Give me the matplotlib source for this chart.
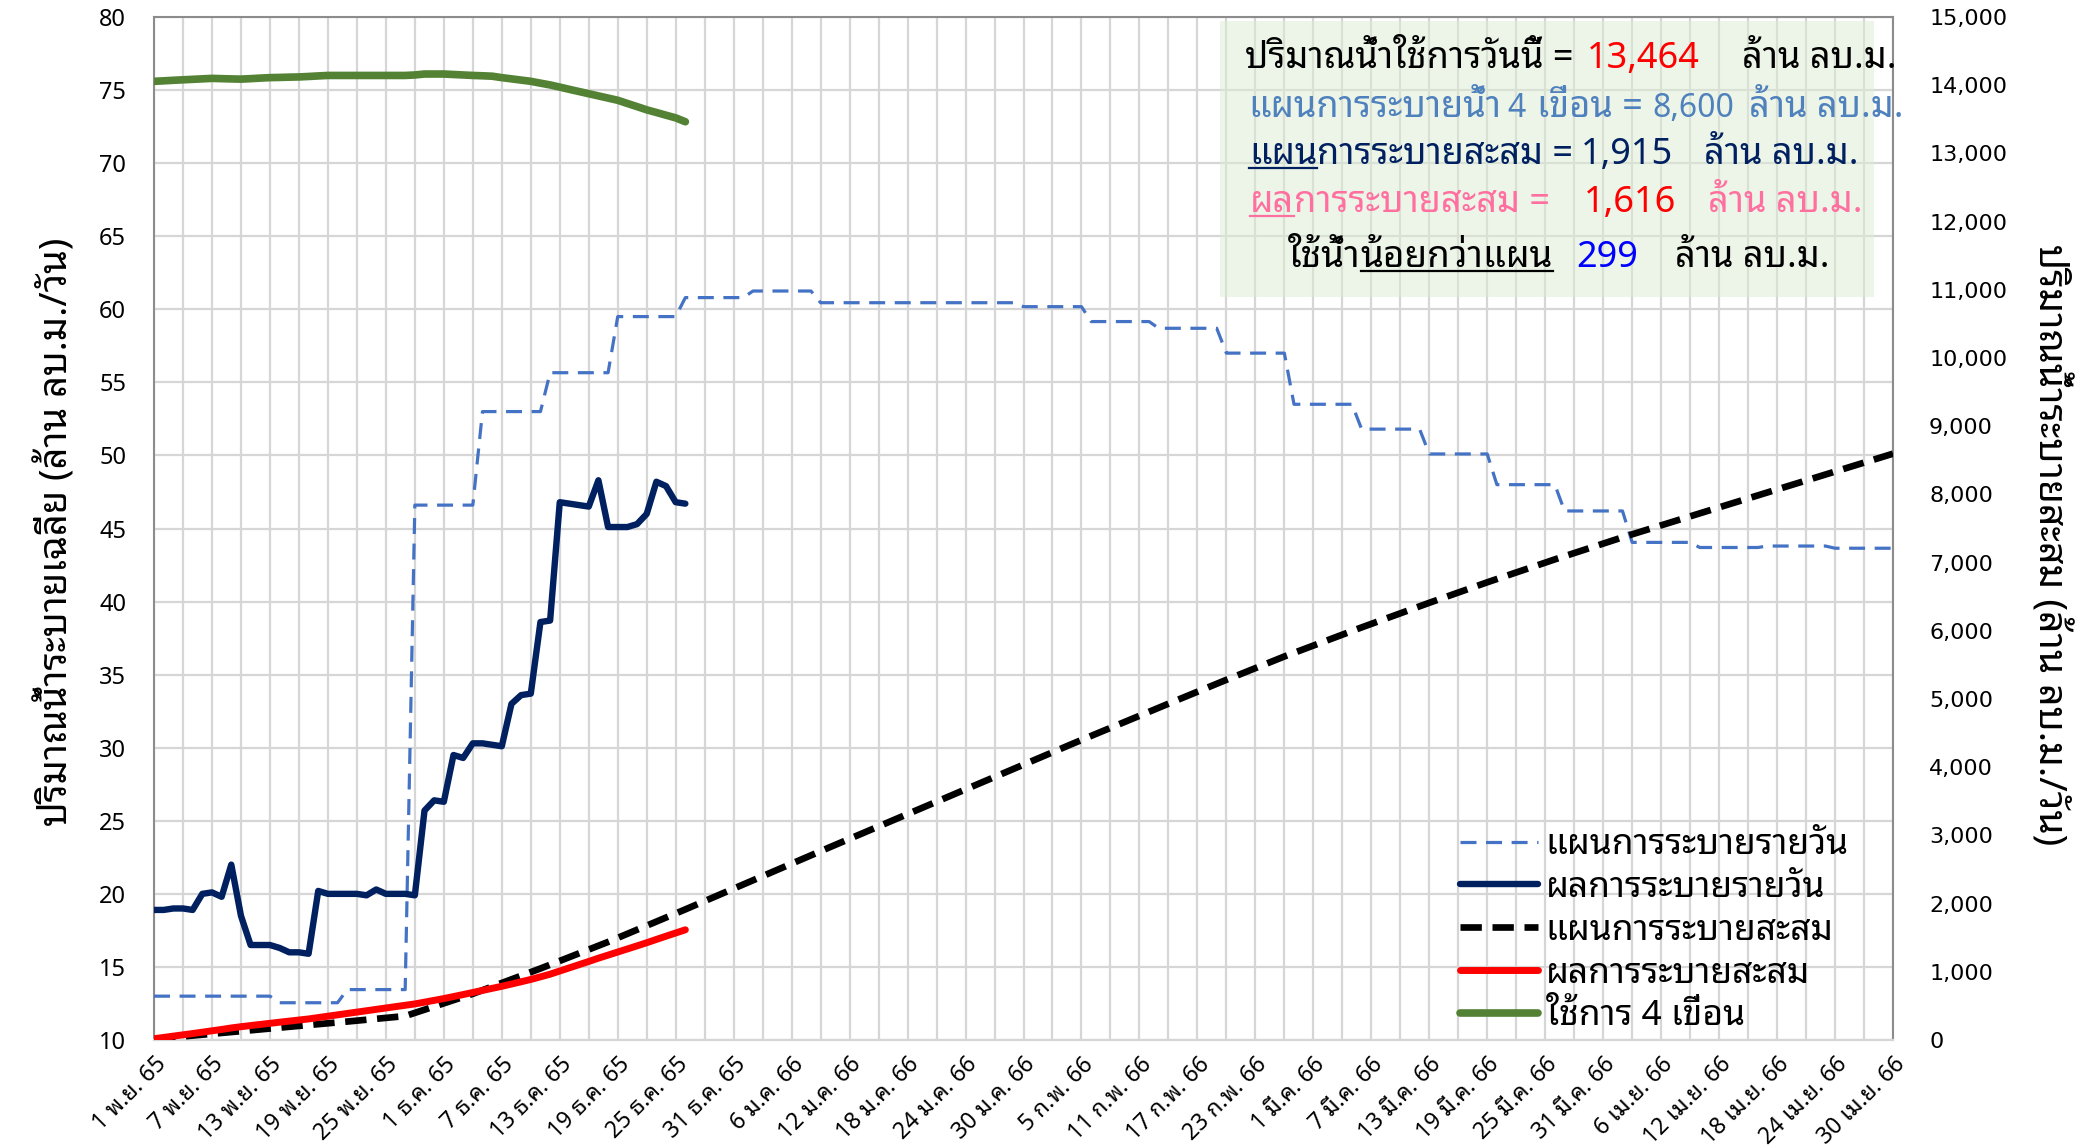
import numpy as np
import pandas as pd
import matplotlib
matplotlib.use("Agg")
import matplotlib.pyplot as plt
from matplotlib import font_manager
from matplotlib.lines import Line2D
from matplotlib.patches import Rectangle

# ฟอนต์ไทย (เลือกตัวแรกที่มีในเครื่อง)
installed = {f.name for f in font_manager.fontManager.ttflist}
thai_font = next(
    (n for n in ["Noto Sans Thai Looped", "Sarabun", "Niramit", "K2D", "Bai Jamjuree"] if n in installed),
    "DejaVu Sans",
)
plt.rcParams["font.family"] = [thai_font, "DejaVu Sans"]
plt.rcParams["axes.unicode_minus"] = False


# ============================
# ข้อมูล
# ============================

dates = pd.date_range("2022-11-01", "2023-04-30", freq="D")

# แผนการระบายรายวัน (ล้าน ลบ.ม./วัน) ปรับค่าเป็นช่วง ๆ
plan_level = [13.0, 12.55, 13.45, 46.6, 53.0, 55.66, 59.5, 60.8, 61.25, 60.45,
              60.18, 59.16, 58.7, 57.0, 53.5, 51.8, 50.1, 48.0, 46.2, 44.05,
              43.7, 43.8, 43.65]
plan_days = [13, 7, 7, 7, 7, 7, 7, 7, 7, 21,
             7, 7, 7, 7, 7, 7, 7, 7, 7, 7,
             7, 7, 7]

# ผลการระบายรายวัน 1 พ.ย. - 26 ธ.ค. 65
actual_daily = [18.9, 18.9, 19.0, 19.0, 18.9, 20.0, 20.1, 19.8, 22.0, 18.5,
                16.5, 16.5, 16.5, 16.3, 16.0, 16.0, 15.9, 20.2, 20.0, 20.0,
                20.0, 20.0, 19.9, 20.3, 20.0, 20.0, 20.0, 19.9, 25.7, 26.4,
                26.3, 29.5, 29.3, 30.3, 30.3, 30.2, 30.1, 33.0, 33.6, 33.7,
                38.6, 38.7, 46.8, 46.7, 46.6, 46.5, 48.3, 45.1, 45.1, 45.1,
                45.3, 46.0, 48.2, 47.9, 46.8, 46.7]

# ปริมาณน้ำใช้การ 4 เขื่อน (ล้าน ลบ.ม.)
usable_4dams = [14057, 14064, 14072, 14079, 14086, 14093, 14100, 14096, 14092, 14089,
                14096, 14104, 14111, 14114, 14118, 14121, 14128, 14136, 14143, 14143,
                14143, 14143, 14143, 14143, 14143, 14143, 14143, 14150, 14164, 14164,
                14164, 14157, 14150, 14143, 14138, 14132, 14111, 14093, 14075, 14057,
                14030, 14004, 13972, 13939, 13907, 13875, 13843, 13811, 13779, 13732,
                13686, 13639, 13600, 13560, 13521, 13464]

plan_daily = np.repeat(plan_level, plan_days)
plan_cum = np.cumsum(plan_daily)
actual_cum = np.cumsum(actual_daily)
n_act = len(actual_daily)

thai_month = {11: "พ.ย.", 12: "ธ.ค.", 1: "ม.ค.", 2: "ก.พ.", 3: "มี.ค.", 4: "เม.ย."}


# ============================
# กราฟ
# ============================

W, H = 2087, 1147
fig = plt.figure(figsize=(W / 100, H / 100), dpi=100)
ax = fig.add_axes([154 / W, 1 - 1040 / H, (1893 - 154) / W, (1040 - 17) / H])
ax2 = ax.twinx()

c_plan = "#4472C4"
c_act = "#002060"
c_green = "#548235"

l1, = ax.plot(dates, plan_daily, color=c_plan, lw=2.3, dashes=(5.0, 3.0), zorder=3)
l2, = ax.plot(dates[:n_act], actual_daily, color=c_act, lw=4.6, zorder=4,
              solid_joinstyle="round", solid_capstyle="round")
l3, = ax2.plot(dates, plan_cum, color="black", lw=4.8, dashes=(3.2, 1.6), zorder=3)
l4, = ax2.plot(dates[:n_act], actual_cum, color="#FF0000", lw=5.0, zorder=4,
               solid_capstyle="round")
l5, = ax2.plot(dates[:n_act], usable_4dams, color=c_green, lw=5.5, zorder=4,
               solid_capstyle="round")

# แกน
ax.set_xlim(dates[0], dates[-1])
ax.set_ylim(10, 80)
ax.set_yticks(np.arange(10, 81, 5))
ax2.set_ylim(0, 15000)
ax2.set_yticks(np.arange(0, 15001, 1000))
ax2.set_yticklabels([f"{v:,}" for v in range(0, 15001, 1000)], family="DejaVu Sans", fontsize=16)

ax.set_xticks(dates[::6])
ax.set_xticks(dates[::3], minor=True)
ax.set_xticklabels([f"{d.day} {thai_month[d.month]} {(d.year + 543) % 100}" for d in dates[::6]],
                   fontsize=16.5, rotation=45, ha="right", va="top", rotation_mode="anchor")
ax.tick_params(axis="x", which="both", length=0, pad=9)
ax.tick_params(axis="y", length=0, pad=20, labelsize=17)
ax2.tick_params(axis="y", length=0, pad=26)

ax.grid(True, which="both", axis="x", color="#d6d6d6", lw=1.6)
ax.grid(True, which="major", axis="y", color="#d6d6d6", lw=1.6)
ax.set_axisbelow(True)

for s in ["left", "right", "top"]:
    ax.spines[s].set_color("#8c8c8c")
    ax.spines[s].set_linewidth(1.5)
ax.spines["bottom"].set_color("#d6d6d6")
ax.spines["bottom"].set_linewidth(1.6)
for s in ax2.spines.values():
    s.set_visible(False)

fig.text(56 / W, 1 - 532 / H, "ปริมาณน้ำระบายเฉลี่ย (ล้าน ลบ.ม./วัน)", rotation=90,
         ha="center", va="center", fontsize=27.5)
fig.text(2050 / W, 1 - 545 / H, "ปริมาณน้ำระบายสะสม (ล้าน ลบ.ม./วัน)", rotation=270,
         ha="center", va="center", fontsize=28)

# คำอธิบายเส้น
fig.legend([l1, l2, l3, l4, l5],
           ["แผนการระบายรายวัน", "ผลการระบายรายวัน", "แผนการระบายสะสม", "ผลการระบายสะสม", "ใช้การ 4 เขื่อน"],
           loc="upper left", bbox_to_anchor=(1460 / W, 1 - 828 / H), frameon=False,
           fontsize=25.5, handlelength=2.2, handletextpad=0.22, labelspacing=0.25,
           borderpad=0, borderaxespad=0)


# ============================
# กล่องสรุป
# ============================

fig.add_artist(Rectangle((1220 / W, 1 - 297 / H), 654 / W, 276 / H, transform=fig.transFigure,
                         facecolor="#DDEDD5", edgecolor="none", alpha=0.5, zorder=5))

renderer = fig.canvas.get_renderer()
cursor = [0]


def put(x, y, s, color, size, underline=False):
    # x=None ต่อท้ายข้อความก่อนหน้า
    if x is None:
        x = cursor[0]
    t = fig.text(x / W, 1 - y / H, s, color=color, fontsize=size, ha="left", va="baseline", zorder=6)
    bb = t.get_window_extent(renderer)
    if underline:
        yy = 1 - (y + 4) / H
        fig.add_artist(Line2D([bb.x0 / W, bb.x1 / W], [yy, yy], transform=fig.transFigure,
                              color=color, lw=1.6, zorder=6))
    cursor[0] = bb.x1
    return t


fs_txt, fs_num = 26, 26
put(1245, 68, "ปริมาณน้ำใช้การวันนี้ =", "black", fs_txt)
put(1587, 68, "13,464", "#FF0000", fs_num)
put(1742, 68, "ล้าน ลบ.ม.", "black", fs_txt)

c2 = "#4F81BD"
put(1248, 117, "แผนการระบายน้ำ", c2, fs_txt)
put(1507, 117, "4", c2, 23)
put(1537, 117, "เขื่อน =", c2, fs_txt)
put(1652, 117, "8,600", c2, 23)
put(1749, 117, "ล้าน ลบ.ม.", c2, fs_txt)

put(1249, 164, "แผน", "#002060", fs_txt, underline=True)
put(None, 164, "การระบายสะสม =", "#002060", fs_txt)
put(1581, 164, "1,915", "#002060", fs_num)
put(1704, 164, "ล้าน ลบ.ม.", "#002060", fs_txt)

put(1250, 212, "ผล", "#FF6F9F", fs_txt, underline=True)
put(None, 212, "การระบายสะสม =", "#FF6F9F", fs_txt)
put(1584, 212, "1,616", "#FF0000", fs_num)
put(1708, 212, "ล้าน ลบ.ม.", "#FF6F9F", fs_txt)

put(1288, 267, "ใช้น้ำ", "black", 26.5)
put(None, 267, "น้อยกว่าแผน", "black", 26.5, underline=True)
put(1576, 267, "299", "#0000FF", fs_num)
put(1675, 267, "ล้าน ลบ.ม.", "black", fs_txt)

fig.savefig("out.png", dpi=100)
